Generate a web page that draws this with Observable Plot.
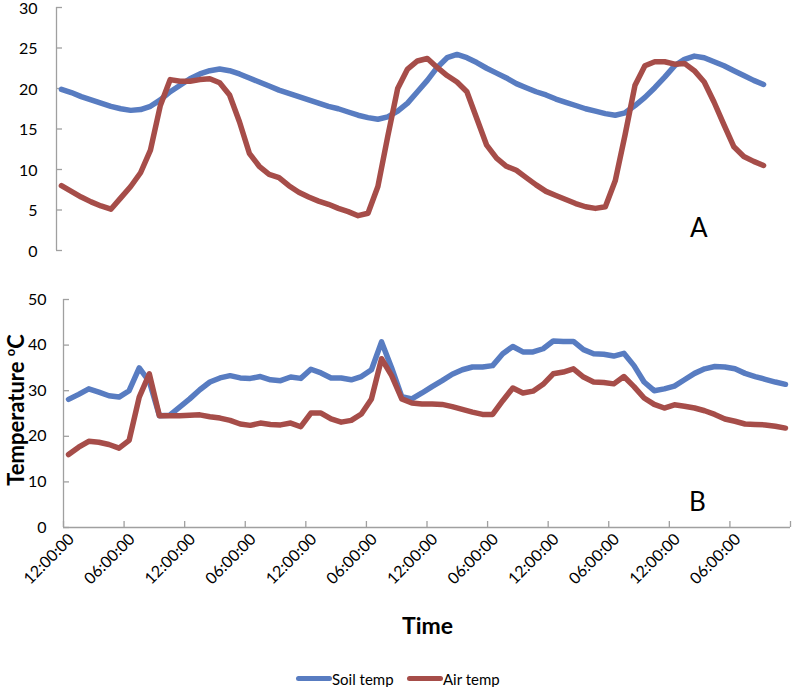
<!DOCTYPE html>
<html><head><meta charset="utf-8">
<script src="https://cdn.jsdelivr.net/npm/d3@7"></script>
<script src="https://cdn.jsdelivr.net/npm/@observablehq/plot@0.6"></script>
<style>
body{margin:0;background:#fff;}
#wrap{position:relative;width:793px;height:687px;font-family:Lato,"Open Sans",sans-serif;overflow:hidden;background:#fff;}
.abs{position:absolute;white-space:nowrap;color:#000;}
#panelA,#panelB{position:absolute;left:0;}
#panelA{top:3px;} #panelB{top:285px;}
</style></head><body><div id="wrap">
<div id="panelA"></div><div id="panelB"></div>
</div>
<script>
// hourly categories (72 hours), label every 6 hours
const tickLabels = ["12:00:00","06:00:00","12:00:00","06:00:00","12:00:00","06:00:00",
                    "12:00:00","06:00:00","12:00:00","06:00:00","12:00:00","06:00:00"];
const seriesNames = ["Soil temp","Air temp"];
const yTicksA = [0,5,10,15,20,25,30];
const yTicksB = [0,10,20,30,40,50];

// Panel A
const soilA = [19.9,19.5,19.0,18.6,18.2,17.8,17.5,17.3,17.4,17.8,18.6,19.6,20.4,21.2,21.8,22.2,22.4,22.2,21.8,21.3,
  20.8,20.3,19.8,19.4,19.0,18.6,18.2,17.8,17.5,17.1,16.7,16.4,16.2,16.5,17.2,18.2,19.6,21.0,22.6,23.8,
  24.2,23.8,23.2,22.5,21.9,21.3,20.6,20.1,19.6,19.2,18.7,18.3,17.9,17.5,17.2,16.9,16.7,17.0,17.9,18.9,
  20.1,21.4,22.8,23.6,24.0,23.8,23.3,22.8,22.2,21.6,21.0,20.5];
const airA = [8.0,7.3,6.6,6.0,5.5,5.1,6.5,7.9,9.6,12.4,17.9,21.1,20.9,20.9,21.1,21.2,20.7,19.2,15.9,12.0,
  10.4,9.4,9.0,8.0,7.2,6.6,6.1,5.7,5.2,4.8,4.3,4.6,7.9,14.1,20.0,22.4,23.4,23.7,22.6,21.6,
  20.8,19.6,16.3,13.0,11.4,10.4,9.9,9.0,8.1,7.3,6.8,6.3,5.8,5.4,5.2,5.4,8.6,14.3,20.4,22.8,
  23.3,23.3,23.0,23.1,22.2,20.8,18.3,15.5,12.8,11.6,11.0,10.5];

// Panel B
const soilB = [28.1,29.2,30.4,29.7,28.9,28.6,30.0,35.0,32.0,24.5,24.6,26.4,28.2,30.2,31.9,32.8,33.3,32.8,32.7,33.1,
  32.4,32.2,33.0,32.7,34.7,33.9,32.8,32.8,32.4,33.1,34.6,40.7,35.0,28.7,28.2,29.5,30.9,32.2,33.6,34.6,
  35.2,35.2,35.5,38.1,39.7,38.5,38.5,39.2,40.9,40.8,40.8,39.0,38.1,38.0,37.6,38.2,35.5,31.9,30.0,30.4,
  31.0,32.4,33.8,34.8,35.3,35.2,34.8,33.8,33.1,32.5,31.9,31.4];
const airB = [16.0,17.6,18.9,18.7,18.2,17.4,19.1,28.6,33.7,24.5,24.5,24.5,24.6,24.7,24.3,24.0,23.5,22.7,22.4,22.9,
  22.6,22.5,22.9,22.1,25.1,25.1,23.8,23.1,23.5,24.9,28.2,37.0,33.3,28.2,27.3,27.1,27.1,27.0,26.5,25.9,
  25.3,24.8,24.8,27.8,30.6,29.5,29.9,31.4,33.7,34.1,34.8,33.0,31.9,31.8,31.5,33.1,30.9,28.4,27.0,26.2,
  26.9,26.6,26.2,25.6,24.8,23.8,23.3,22.7,22.6,22.5,22.2,21.8];

const blue = "#587cc1", red = "#a64d49", gray = "#a0a0a0";
const colors = [blue, red];
const nCat = soilA.length;
const xDomain = [-0.5, nCat - 0.5];
const lineStyle = {strokeWidth: 5.5, strokeLinejoin: "round", strokeLinecap: "round"};
const baseStyle = {fontFamily: "Lato, 'Open Sans', sans-serif", fontSize: "15px", color: "#000", background: "transparent", overflow: "visible"};

const chartA = Plot.plot({
  width: 793, height: 253,
  marginTop: 4, marginBottom: 6, marginLeft: 56, marginRight: 25,
  style: baseStyle,
  x: {domain: xDomain, axis: null},
  y: {domain: [0, 30], axis: null},
  marks: [
    Plot.ruleX([xDomain[0]], {stroke: gray, strokeWidth: 1.3}),
    Plot.ruleY(yTicksA, {x1: xDomain[0], x2: xDomain[0], insetRight: -6, stroke: gray, strokeWidth: 1.3}),
    Plot.axisY({ticks: yTicksA, tickSize: 0, tickPadding: 19, fontSize: 16, dy: 1}),
    Plot.lineY(soilA, {...lineStyle, stroke: colors[0]}),
    Plot.lineY(airA, {...lineStyle, stroke: colors[1]})
  ]
});
document.getElementById("panelA").appendChild(chartA);

const labelCats = tickLabels.map((t, k) => k * 6);
const boundaries = tickLabels.map((t, k) => k * 6 - 0.5).concat([nCat - 0.5]);
const chartB = Plot.plot({
  width: 793, height: 320,
  marginTop: 14, marginBottom: 78, marginLeft: 63, marginRight: 3,
  style: baseStyle,
  x: {domain: xDomain, axis: null},
  y: {domain: [0, 50], axis: null},
  marks: [
    Plot.ruleX([xDomain[0]], {stroke: gray, strokeWidth: 1.3}),
    Plot.ruleY([0], {stroke: gray, strokeWidth: 1.3}),
    Plot.ruleY(yTicksB, {x1: xDomain[0], x2: xDomain[0], insetRight: -6, stroke: gray, strokeWidth: 1.3}),
    Plot.ruleX(boundaries, {y1: 0, y2: 0, insetTop: -6, stroke: gray, strokeWidth: 1.3}),
    Plot.axisY({ticks: yTicksB, tickSize: 0, tickPadding: 17, fontSize: 16}),
    Plot.axisX({ticks: labelCats, tickFormat: d => tickLabels[d / 6], tickRotate: -45, tickSize: 0, tickPadding: 9, dx: 3, fontSize: 16}),
    Plot.lineY(soilB, {...lineStyle, stroke: colors[0]}),
    Plot.lineY(airB, {...lineStyle, stroke: colors[1]})
  ]
});
document.getElementById("panelB").appendChild(chartB);

const wrap = document.getElementById("wrap");
function addText(html, css) {
  const d = document.createElement("div");
  d.className = "abs";
  d.innerHTML = html;
  Object.assign(d.style, css);
  wrap.appendChild(d);
  return d;
}
addText("A", {left: "690px", top: "211px", fontSize: "26px"});
addText("B", {left: "689px", top: "485px", fontSize: "26px"});
addText("Time", {left: "402px", top: "611px", fontSize: "23px", fontWeight: "bold"});
addText("Temperature <sup style='font-size:13px'>o</sup>C", {
  left: "13px", top: "410px", fontSize: "22px", fontWeight: "bold", lineHeight: "24px",
  transform: "translate(-50%,-50%) rotate(-90deg)"
});
// legend
const legendX = [296, 407];
seriesNames.forEach((name, k) => {
  addText("", {left: legendX[k] + "px", top: "676px", width: "36px", height: "5px", borderRadius: "3px", background: colors[k]});
  addText(name, {left: (legendX[k] + 36) + "px", top: "670px", fontSize: "15px"});
});
</script></body></html>
